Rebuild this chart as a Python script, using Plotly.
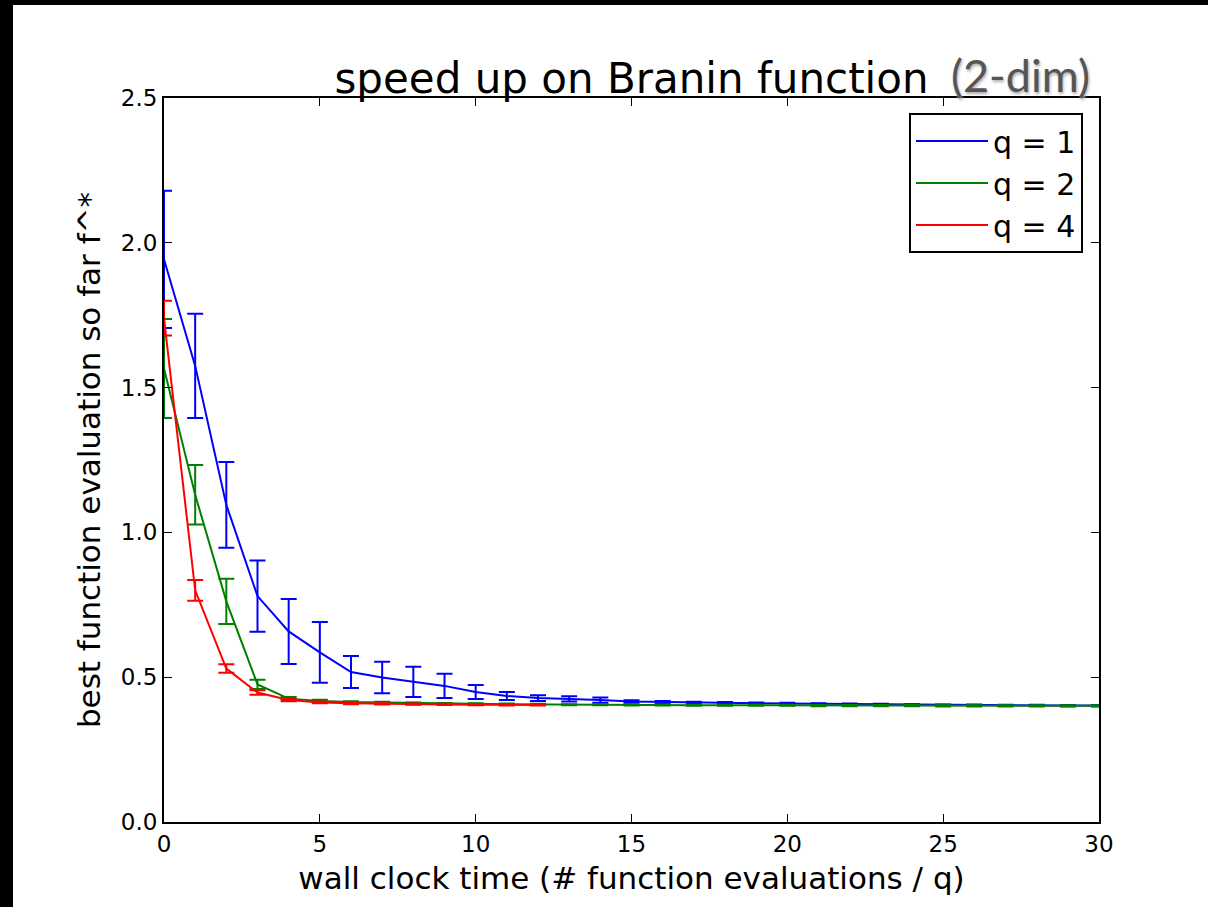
import plotly.graph_objects as go

# ---- data ----
x_q1 = list(range(0, 31))
mean_q1 = [1.943, 1.575, 1.095, 0.780, 0.658, 0.586, 0.518, 0.499, 0.484, 0.470,
           0.449, 0.435, 0.428, 0.425, 0.421, 0.416, 0.414, 0.412, 0.411, 0.410,
           0.409, 0.408, 0.407, 0.406, 0.405, 0.404, 0.404, 0.403, 0.403, 0.402, 0.402]
err_q1 = [0.237, 0.180, 0.148, 0.123, 0.112, 0.105, 0.055, 0.054, 0.052, 0.042,
          0.024, 0.014, 0.010, 0.009, 0.009, 0.004, 0.004, 0.003, 0.003, 0.003,
          0.003, 0.002, 0.002, 0.002, 0.002, 0.002, 0.002, 0.002, 0.002, 0.002, 0.002]

x_q2 = list(range(0, 31))
mean_q2 = [1.566, 1.130, 0.762, 0.475, 0.426, 0.418, 0.414, 0.412, 0.410, 0.409,
           0.408, 0.407, 0.406, 0.405, 0.405, 0.404, 0.404, 0.403, 0.403, 0.403,
           0.403, 0.402, 0.402, 0.402, 0.402, 0.401, 0.401, 0.401, 0.401, 0.401, 0.401]
err_q2 = [0.171, 0.103, 0.078, 0.016, 0.006, 0.004, 0.003, 0.003, 0.003, 0.002,
          0.002, 0.002, 0.002, 0.002, 0.002, 0.002, 0.002, 0.002, 0.002, 0.002,
          0.002, 0.002, 0.002, 0.002, 0.002, 0.002, 0.002, 0.002, 0.002, 0.002, 0.002]

x_q4 = list(range(0, 13))
mean_q4 = [1.740, 0.800, 0.530, 0.447, 0.421, 0.413, 0.410, 0.408, 0.407, 0.406,
           0.405, 0.404, 0.404]
err_q4 = [0.060, 0.036, 0.015, 0.008, 0.004, 0.003, 0.003, 0.002, 0.002, 0.002,
          0.002, 0.002, 0.002]

series = [
    ("q = 1", x_q1, mean_q1, err_q1, "#0000ff"),
    ("q = 2", x_q2, mean_q2, err_q2, "#008000"),
    ("q = 4", x_q4, mean_q4, err_q4, "#ff0000"),
]

x_ticks = [0, 5, 10, 15, 20, 25, 30]
y_ticks = [0.0, 0.5, 1.0, 1.5, 2.0, 2.5]

FONT = "DejaVu Sans"

fig = go.Figure()
for name, xs, ys, es, col in series:
    fig.add_trace(go.Scatter(
        x=xs, y=ys, name=name, mode="lines",
        line=dict(color=col, width=2),
        error_y=dict(type="data", array=es, visible=True,
                     color=col, thickness=2, width=8),
    ))

# plot-area geometry (pixels)
L, R, T, B = 164, 109, 98, 85
W, H = 1208, 907
PW, PH = W - L - R, H - T - B

def px(xp):
    return (xp - L) / PW

def py(yp):
    return (H - B - yp) / PH

axis_common = dict(
    showline=True, linecolor="black", linewidth=2, mirror="ticks",
    ticks="inside", ticklen=8, tickwidth=1, tickcolor="black",
    showgrid=False, zeroline=False,
    tickfont=dict(family=FONT, size=23, color="black"),
)

fig.update_layout(
    width=W, height=H,
    margin=dict(l=L, r=R, t=T, b=B, pad=0),
    paper_bgcolor="white", plot_bgcolor="white",
    font=dict(family=FONT, color="black"),
    title=dict(text="speed up on Branin function", x=0.5, xref="paper",
               xanchor="center", y=1, yref="paper", yanchor="bottom",
               pad=dict(b=5),
               font=dict(family=FONT, size=42, color="black")),
    xaxis=dict(range=[0, 30], tickvals=x_ticks,
               title=dict(text="wall clock time (# function evaluations / q)",
                          font=dict(family=FONT, size=31), standoff=12),
               **axis_common),
    yaxis=dict(range=[0, 2.5], tickvals=y_ticks, tickformat=".1f",
               title=dict(text="best function evaluation so far f^*",
                          font=dict(family=FONT, size=31), standoff=11),
               **axis_common),
    legend=dict(x=px(1083), y=py(113), xanchor="right", yanchor="top",
                bordercolor="black", borderwidth=2, bgcolor="white",
                font=dict(family=FONT, size=30, color="black"),
                itemwidth=72, tracegroupgap=0),
    showlegend=True,
    annotations=[dict(text="(2-dim)", x=px(1020), y=py(75), xref="paper", yref="paper",
                      xanchor="center", yanchor="middle", showarrow=False,
                      font=dict(family="Lato", size=45, color="#555555",
                                shadow="1px 2px 3px #aaaaaa"))],
    shapes=[
        dict(type="rect", xref="paper", yref="paper", x0=px(0), x1=px(13),
             y0=py(H), y1=py(0), fillcolor="black", line=dict(width=0), layer="above"),
        dict(type="rect", xref="paper", yref="paper", x0=px(0), x1=px(W),
             y0=py(5), y1=py(0), fillcolor="black", line=dict(width=0), layer="above"),
    ],
)

fig.write_html("out.html")
